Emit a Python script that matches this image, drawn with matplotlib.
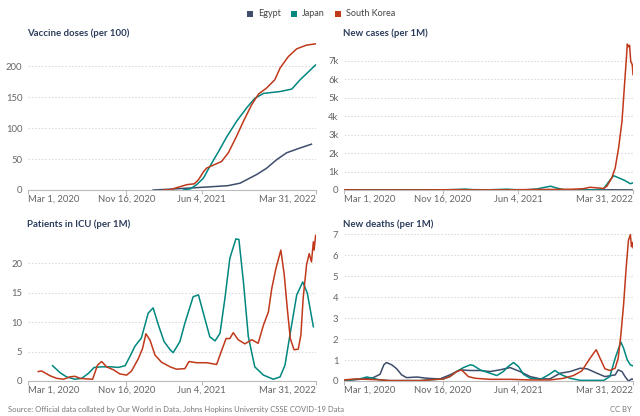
import numpy as np
import pandas as pd
import matplotlib
matplotlib.use("Agg")
import matplotlib.pyplot as plt
import matplotlib.transforms as mtransforms
from matplotlib.patches import Rectangle

plt.rcParams['font.family'] = ['Lato', 'DejaVu Sans']

START = pd.Timestamp('2020-03-01')
END = pd.Timestamp('2022-04-02')

countries = ['Egypt', 'Japan', 'South Korea']
colors = {'Egypt': '#3d4d6b', 'Japan': '#00877f', 'South Korea': '#c0391b'}

# x values are days since Mar 1, 2020
# --- Vaccine doses (per 100)
egypt_vax_days = [331, 380, 429, 473, 529, 561, 605, 631, 658, 684, 711, 750]
egypt_vax = [0, 1.5, 3.2, 4.8, 7, 11, 25, 35, 49, 60, 66, 74]
japan_vax_days = [411, 430, 446, 464, 481, 504, 526, 552, 579, 600, 623, 667, 698, 720, 761]
japan_vax = [0, 2, 8.6, 19, 38, 62, 86, 111, 133, 148, 156, 159, 163, 178, 202]
korea_vax_days = [357, 376, 420, 440, 451, 465, 473, 486, 512, 530, 552, 570, 592, 610,
                  631, 653, 667, 689, 711, 737, 761]
korea_vax = [0, 0.5, 8.6, 10, 16.6, 30, 35.5, 39, 46, 60, 87, 111, 138, 155,
             164.5, 178, 197, 215.6, 228, 234, 236]

# --- New cases (per 1M)
egypt_cases_days = [0, 100, 200, 300, 400, 500, 600, 700, 762]
egypt_cases = [0, 5, 2, 8, 10, 5, 8, 12, 5]
japan_cases_days = [0, 40, 80, 140, 160, 180, 220, 260, 300, 318, 340, 380, 410, 430, 450,
                    480, 510, 530, 545, 560, 580, 620, 660, 684, 700, 711, 740, 755, 762]
japan_cases = [0, 4, 5, 1, 8, 10, 4, 10, 30, 50, 20, 10, 30, 45, 20,
               10, 60, 150, 205, 110, 20, 2, 1, 60, 500, 776, 520, 340, 390]
korea_cases_days = [0, 10, 30, 60, 200, 280, 300, 330, 450, 500, 540, 600, 630, 649, 670,
                    684, 693, 706, 715, 724, 733, 739, 744, 747, 750, 753, 756, 760, 762]
korea_cases = [5, 10, 3, 1, 2, 15, 20, 8, 10, 30, 30, 40, 70, 147, 110,
               80, 200, 650, 1190, 2280, 3730, 5530, 6980, 7920, 7770, 7850, 6980, 6800, 6260]

# --- Patients in ICU (per 1M)
japan_icu_days = [65, 85, 102, 124, 142, 160, 175, 195, 221, 239, 257, 270, 283, 300, 318,
                  331, 345, 360, 376, 384, 402, 415, 437, 451, 464, 481, 495, 508, 521, 534,
                  550, 558, 570, 583, 600, 623, 649, 667, 680, 693, 711, 727, 739, 755]
japan_icu = [2.6, 1.4, 0.7, 0.3, 0.45, 1.3, 2.3, 2.4, 2.4, 2.3, 2.6, 4.2, 5.9, 7.3, 11.5,
             12.4, 9.5, 6.7, 5.3, 4.8, 6.7, 9.8, 14.3, 14.6, 11.5, 7.5, 6.8, 8.1, 14.0, 20.8,
             24.1, 24.0, 16.8, 7.5, 2.4, 1.0, 0.3, 0.7, 2.7, 7.8, 14.6, 16.8, 14.9, 9.2]
korea_icu_days = [27, 36, 58, 76, 94, 111, 124, 138, 155, 171, 184, 195, 208, 226, 243,
                  261, 274, 292, 303, 312, 323, 336, 353, 376, 393, 415, 426, 446, 473, 499,
                  508, 524, 534, 543, 556, 574, 592, 609, 623, 636, 645, 656, 669, 678, 686,
                  694, 704, 715, 722, 728, 737, 744, 750, 755, 757, 761]
korea_icu = [1.6, 1.7, 0.9, 0.45, 0.3, 0.7, 0.8, 0.45, 0.35, 0.3, 2.7, 3.3, 2.4, 1.9, 1.2,
             1.0, 1.7, 3.8, 5.5, 8.0, 6.9, 4.4, 3.2, 2.4, 2.0, 2.1, 3.3, 3.1, 3.1, 2.8,
             4.4, 7.2, 7.2, 8.2, 7.0, 6.3, 7.0, 6.4, 9.5, 11.7, 15.7, 19.1, 22.2, 18.0, 12.3,
             7.2, 5.3, 5.4, 7.8, 14.0, 19.7, 21.6, 20.2, 23.6, 22.2, 24.7]

# --- New deaths (per 1M)
egypt_deaths_days = [0, 42, 77, 95, 105, 112, 126, 139, 152, 165, 192, 219, 253, 279, 306,
                     333, 359, 385, 411, 438, 464, 491, 518, 543, 570, 596, 623, 641, 667,
                     688, 715, 723, 733, 741, 750, 759, 762]
egypt_deaths = [0.02, 0.08, 0.16, 0.32, 0.77, 0.88, 0.77, 0.58, 0.29, 0.16, 0.19, 0.13, 0.1,
                0.29, 0.53, 0.5, 0.5, 0.45, 0.53, 0.64, 0.45, 0.21, 0.1, 0.1, 0.37, 0.45,
                0.61, 0.58, 0.37, 0.21, 0.29, 0.53, 0.45, 0.21, 0.0, 0.1, 0.08]
japan_deaths_days = [0, 42, 60, 77, 95, 120, 200, 262, 279, 297, 315, 333, 341, 359, 385,
                     403, 420, 433, 447, 460, 473, 491, 518, 539, 556, 574, 596, 623, 685,
                     701, 715, 730, 737, 747, 755, 762]
japan_deaths = [0.02, 0.1, 0.19, 0.13, 0.05, 0.02, 0.02, 0.1, 0.21, 0.45, 0.64, 0.77, 0.74,
                0.53, 0.37, 0.26, 0.45, 0.69, 0.88, 0.69, 0.32, 0.13, 0.08, 0.29, 0.5, 0.29,
                0.13, 0.03, 0.03, 0.21, 1.09, 1.86, 1.57, 1.0, 0.77, 0.72]
korea_deaths_days = [0, 30, 60, 100, 120, 200, 262, 279, 297, 310, 328, 346, 385, 438, 491,
                     543, 579, 605, 627, 649, 665, 675, 688, 701, 715, 723, 730, 737, 744,
                     750, 755, 758, 760, 762]
korea_deaths = [0.05, 0.1, 0.08, 0.05, 0.02, 0.02, 0.1, 0.21, 0.45, 0.53, 0.21, 0.13, 0.08,
                0.08, 0.05, 0.05, 0.13, 0.26, 0.48, 1.09, 1.49, 1.09, 0.58, 0.5, 0.61, 1.09,
                2.2, 3.6, 5.4, 6.7, 6.97, 6.4, 6.6, 6.35]

tick_days = [0, 260, 460, 762]
tick_labels = ['Mar 1, 2020', 'Nov 16, 2020', 'Jun 4, 2021', 'Mar 31, 2022']
tick_align = ['left', 'center', 'center', 'right']


def to_dates(days):
    return START + pd.to_timedelta(np.array(days), unit='D')


panels = [
    dict(title='Vaccine doses (per 100)', rect=[28, 42, 316, 190], ylim=239,
         yticks=[0, 50, 100, 150, 200], ylabels=['0', '50', '100', '150', '200'],
         series=[('Egypt', egypt_vax_days, egypt_vax), ('Japan', japan_vax_days, japan_vax),
                 ('South Korea', korea_vax_days, korea_vax)]),
    dict(title='New cases (per 1M)', rect=[344, 42, 633, 190], ylim=8030,
         yticks=[0, 1000, 2000, 3000, 4000, 5000, 6000, 7000],
         ylabels=['0', '1k', '2k', '3k', '4k', '5k', '6k', '7k'],
         series=[('Egypt', egypt_cases_days, egypt_cases),
                 ('Japan', japan_cases_days, japan_cases),
                 ('South Korea', korea_cases_days, korea_cases)]),
    dict(title='Patients in ICU (per 1M)', rect=[28, 233, 316, 381], ylim=25.1,
         yticks=[0, 5, 10, 15, 20], ylabels=['0', '5', '10', '15', '20'],
         series=[('Japan', japan_icu_days, japan_icu),
                 ('South Korea', korea_icu_days, korea_icu)]),
    dict(title='New deaths (per 1M)', rect=[344, 233, 633, 381], ylim=7.05,
         yticks=[0, 1, 2, 3, 4, 5, 6, 7], ylabels=['0', '1', '2', '3', '4', '5', '6', '7'],
         series=[('Egypt', egypt_deaths_days, egypt_deaths),
                 ('Japan', japan_deaths_days, japan_deaths),
                 ('South Korea', korea_deaths_days, korea_deaths)]),
]

W, H = 640, 416
TICK_FS = 6.8
fig = plt.figure(figsize=(W / 100, H / 100), dpi=100)

for p in panels:
    x0, y0, x1, y1 = p['rect']
    ax = fig.add_axes([x0 / W, 1 - y1 / H, (x1 - x0) / W, (y1 - y0) / H])
    for name, days, vals in p['series']:
        ax.plot(to_dates(days), vals, color=colors[name], lw=1.1, solid_joinstyle='round')
    ax.set_xlim(START, END)
    ax.set_ylim(0, p['ylim'])
    ax.set_yticks(p['yticks'])
    ax.set_yticklabels(p['ylabels'])
    ax.set_xticks(to_dates(tick_days))
    ax.set_xticklabels([''] * len(tick_days))
    # x labels drawn by hand so the end labels can hug the axis ends
    trans = mtransforms.blended_transform_factory(ax.transData, ax.transAxes)
    for d, lab, ha in zip(to_dates(tick_days), tick_labels, tick_align):
        ax.text(d, -0.03, lab, transform=trans, ha=ha, va='top', fontsize=TICK_FS,
                color='#666666')
    for s in ['top', 'right', 'left']:
        ax.spines[s].set_visible(False)
    ax.spines['bottom'].set_color('#bbbbbb')
    ax.tick_params(axis='y', length=0, labelsize=TICK_FS, labelcolor='#666666', pad=4)
    ax.tick_params(axis='x', length=3, color='#bbbbbb')
    ax.grid(axis='y', color='#dddddd', linestyle=(0, (1.5, 1.5)), lw=0.8)
    ax.set_axisbelow(True)
    fig.text((x0 - 1) / W, 1 - (y0 - 9) / H, p['title'], fontsize=6.9, fontweight='bold',
             color='#2c3d5c', va='center', ha='left')

# legend
lx = 247
for name in countries:
    fig.patches.append(Rectangle((lx / W, 1 - 16.5 / H), 6 / W, 6 / H,
                                 transform=fig.transFigure,
                                 facecolor=colors[name], edgecolor='none'))
    t = fig.text((lx + 11) / W, 1 - 13.5 / H, name, fontsize=6.5, color='#444444',
                 va='center', ha='left')
    fig.canvas.draw()
    bb = t.get_window_extent()
    lx = bb.x1 + 10

fig.text(8 / W, 1 - 409 / H,
         'Source: Official data collated by Our World in Data, Johns Hopkins University CSSE COVID-19 Data',
         fontsize=5.5, color='#777777', va='center', ha='left')
fig.text(632 / W, 1 - 409 / H, 'CC BY', fontsize=5.5, color='#777777', va='center', ha='right')

fig.savefig('out.png', dpi=100)
